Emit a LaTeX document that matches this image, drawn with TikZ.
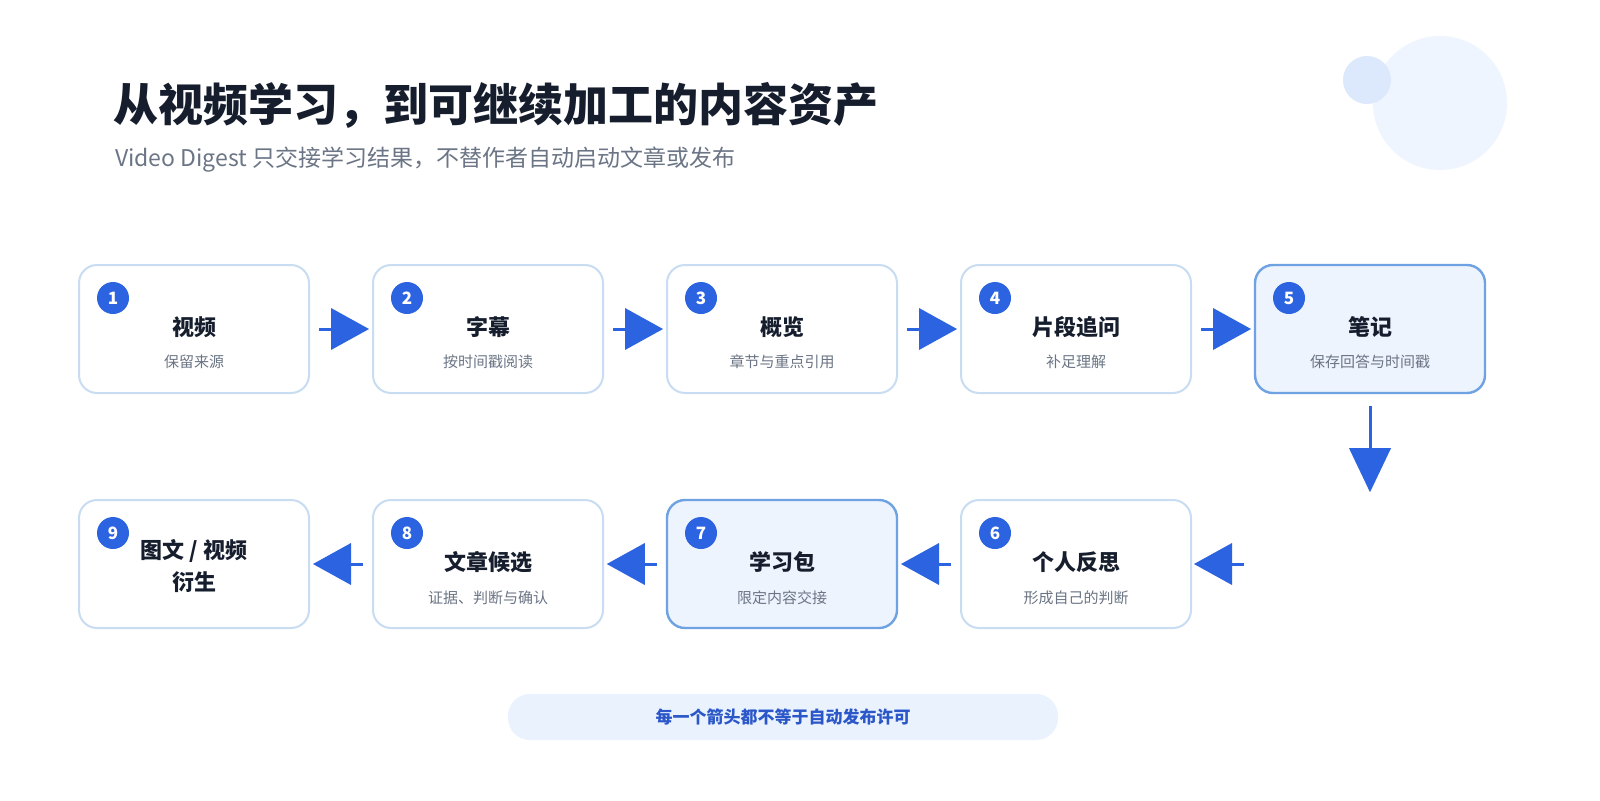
\documentclass[tikz,border=0pt]{standalone}
\usepackage{fontspec}
\usetikzlibrary{calc}
\setmainfont{Noto Sans CJK SC}
\begin{document}
\definecolor{ink}{HTML}{161E2E}
\definecolor{gray}{HTML}{6B7585}
\definecolor{blu}{HTML}{2B63E0}
\definecolor{bord}{HTML}{C8DCF2}
\definecolor{hbord}{HTML}{6EA2E2}
\definecolor{hfill}{HTML}{EEF4FE}
\begin{tikzpicture}[x=0.5pt,y=-0.5pt,
 box/.style={draw=bord,line width=1pt,fill=white,rounded corners=9pt,minimum width=115pt,minimum height=64pt},
 hbox/.style={box,draw=hbord,line width=1.2pt,fill=hfill},
 badge/.style={circle,fill=blu,minimum size=16pt,inner sep=0pt,text=white,font=\fontsize{8.5}{10}\selectfont\bfseries},
 ttl/.style={font=\fontsize{11}{16}\selectfont\bfseries,text=ink,align=center},
 sub/.style={font=\fontsize{7.5}{9}\selectfont,text=gray},
 ln/.style={draw=blu,line width=1.5pt},
 tri/.style={fill=blu}]
\useasboundingbox (0,0) rectangle (1600,800);
\fill[white] (0,0) rectangle (1600,800);
\fill[color={rgb,255:red,239;green,245;blue,255}] (1440,103) circle (67);
\fill[color={rgb,255:red,220;green,232;blue,252}] (1367,80) circle (24);
\node[anchor=west,font=\fontsize{22.5}{26}\selectfont\bfseries,text=ink] (title) at (106,105) {从视频学习，到可继续加工的内容资产};
\node[anchor=west,font=\fontsize{11.5}{14}\selectfont,text=gray] (subt) at (108,160) {Video Digest 只交接学习结果，不替作者自动启动文章或发布};
% row 1
\foreach \i/\x/\t/\s/\st in {1/194/视频/保留来源/box,2/488/字幕/按时间戳阅读/box,3/782/概览/章节与重点引用/box,4/1076/片段追问/补足理解/box,5/1370/笔记/保存回答与时间戳/hbox}{
 \node[\st] (b\i) at (\x,329) {};
 \node[badge] (n\i) at (\x-81,298) {\i};
 \node[ttl] (t\i) at (\x,327) {\t};
 \node[sub] (s\i) at (\x,362) {\s};
}
\foreach \i/\x/\t/\s/\st in {6/1076/个人反思/形成自己的判断/box,7/782/学习包/限定内容交接/hbox,8/488/文章候选/证据、判断与确认/box}{
 \node[\st] (b\i) at (\x,564) {};
 \node[badge] (n\i) at (\x-81,533) {\i};
 \node[ttl] (t\i) at (\x,562) {\t};
 \node[sub] (s\i) at (\x,598) {\s};
}
\node[box] (b9) at (194,564) {};
\node[badge] (n9) at (113,533) {9};
\node[ttl] (t9) at (194,566) {图文 / 视频\\衍生};
% arrows row1
\foreach \a in {1,2,3,4}{
 \coordinate (p\a) at ($(b\a.east)+(9,0)$);
 \draw[ln] (p\a) -- ++(14,0);
 \fill[blu] ($(p\a)+(12,-21)$) -- ($(p\a)+(50,0)$) -- ($(p\a)+(12,21)$) -- cycle;
}
% down
\coordinate (d) at ($(b5.south)+(0,12)$);
\draw[ln] (d) -- ++(0,46);
\fill[blu] ($(d)+(-21,42)$) -- ($(d)+(0,86)$) -- ($(d)+(21,42)$) -- cycle;
% row2 left arrows
\coordinate (q9) at (1244,564);
\foreach \b in {6,7,8}{
 \coordinate (q\b) at ($(b\b.west)+(-9,0)$);
}
\foreach \b in {6,7,8,9}{
 \draw[ln] (q\b) -- ++(-14,0);
 \fill[blu] ($(q\b)+(-12,-21)$) -- ($(q\b)+(-50,0)$) -- ($(q\b)+(-12,21)$) -- cycle;
}
% pill
\node[fill={rgb,255:red,234;green,242;blue,254},rounded corners=11pt,minimum width=275pt,minimum height=23pt,font=\fontsize{8.5}{10}\selectfont\bfseries,text={rgb,255:red,43;green,87;blue,200}] (pill) at (783,717) {每一个箭头都不等于自动发布许可};
\end{tikzpicture}
\end{document}
